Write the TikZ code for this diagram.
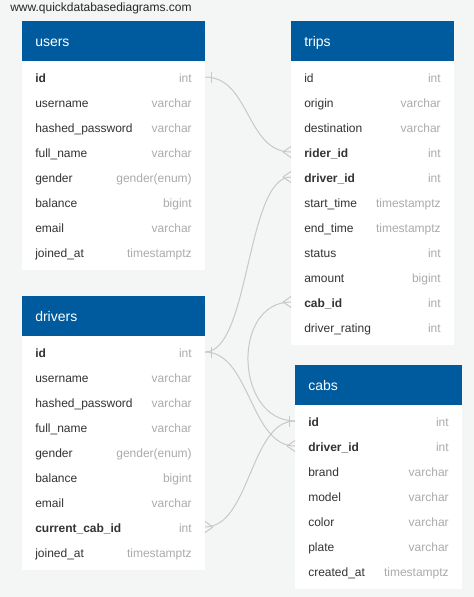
\documentclass[tikz,border=0pt]{standalone}
\usepackage{fontspec}
\setmainfont{Liberation Sans}
\definecolor{bg}{HTML}{F4F5F5}
\definecolor{hdr}{HTML}{005A9E}
\definecolor{nmc}{HTML}{333333}
\definecolor{tyc}{HTML}{ABABAB}
\definecolor{lnc}{HTML}{C8C8C8}
\tikzset{
  head/.style={fill=hdr, anchor=north west, inner sep=0pt, outer sep=0pt, minimum height=30pt},
  body/.style={fill=white, anchor=north west, inner sep=0pt, outer sep=0pt},
  title/.style={anchor=base west, inner sep=0pt, text=white, font=\fontsize{10.5}{12}\selectfont},
  nm/.style={anchor=west, inner sep=0pt, text height=8pt, text depth=0pt, text=nmc, font=\fontsize{9}{11}\selectfont},
  key/.style={font=\fontsize{9}{11}\selectfont\bfseries},
  ty/.style={inner sep=0pt, text height=8pt, text depth=0pt, text=tyc, font=\fontsize{9}{11}\selectfont, anchor=east},
  rel/.style={draw=lnc, line width=0.75pt},
}
\newcommand\rw[8]{%
  \node[nm,#8] (#1-#2) at (#4,#3) {#6};
  \node[ty] (#1-#2-t) at (#5,#3) {#7};}
\begin{document}
\begin{tikzpicture}[x=0.75pt,y=-0.75pt]
\fill[bg] (0,0) rectangle (474,597);
\useasboundingbox (0,0) rectangle (474,597);
\node[anchor=base west, inner sep=0pt, text=black!85, font=\fontsize{9}{11}\selectfont] (wm) at (10,11.5) {www.quickdatabasediagrams.com};
% users
\node[head, minimum width=137.25pt] (users-head) at (22,21) {};
\node[body, minimum width=137.25pt, minimum height=156.75pt] (users-body) at (22,61) {};
\node[title] (users-title) at (35,46) {users};
\rw{users}{id}{77}{35}{192}{id}{int}{key}
\rw{users}{username}{102}{35}{192}{username}{varchar}{}
\rw{users}{hpw}{127}{35}{192}{hashed\_password}{varchar}{}
\rw{users}{fname}{152}{35}{192}{full\_name}{varchar}{}
\rw{users}{gender}{177}{35}{192}{gender}{gender(enum)}{}
\rw{users}{balance}{202}{35}{192}{balance}{bigint}{}
\rw{users}{email}{227}{35}{192}{email}{varchar}{}
\rw{users}{joined}{252}{35}{192}{joined\_at}{timestamptz}{}
% trips
\node[head, minimum width=122.25pt] (trips-head) at (291,21) {};
\node[body, minimum width=122.25pt, minimum height=213pt] (trips-body) at (291,61) {};
\node[title] (trips-title) at (304,46) {trips};
\rw{trips}{id}{77}{304}{441}{id}{int}{}
\rw{trips}{origin}{102}{304}{441}{origin}{varchar}{}
\rw{trips}{dest}{127}{304}{441}{destination}{varchar}{}
\rw{trips}{rider}{152}{304}{441}{rider\_id}{int}{key}
\rw{trips}{driver}{177}{304}{441}{driver\_id}{int}{key}
\rw{trips}{start}{202}{304}{441}{start\_time}{timestamptz}{}
\rw{trips}{end}{227}{304}{441}{end\_time}{timestamptz}{}
\rw{trips}{status}{252}{304}{441}{status}{int}{}
\rw{trips}{amount}{277}{304}{441}{amount}{bigint}{}
\rw{trips}{cab}{302}{304}{441}{cab\_id}{int}{key}
\rw{trips}{rating}{327}{304}{441}{driver\_rating}{int}{}
% drivers
\node[head, minimum width=137.25pt] (drivers-head) at (22,296) {};
\node[body, minimum width=137.25pt, minimum height=175.5pt] (drivers-body) at (22,336) {};
\node[title] (drivers-title) at (35,321) {drivers};
\rw{drivers}{id}{352}{35}{192}{id}{int}{key}
\rw{drivers}{username}{377}{35}{192}{username}{varchar}{}
\rw{drivers}{hpw}{402}{35}{192}{hashed\_password}{varchar}{}
\rw{drivers}{fname}{427}{35}{192}{full\_name}{varchar}{}
\rw{drivers}{gender}{452}{35}{192}{gender}{gender(enum)}{}
\rw{drivers}{balance}{477}{35}{192}{balance}{bigint}{}
\rw{drivers}{email}{502}{35}{192}{email}{varchar}{}
\rw{drivers}{cur}{527}{35}{192}{current\_cab\_id}{int}{key}
\rw{drivers}{joined}{552}{35}{192}{joined\_at}{timestamptz}{}
% cabs
\node[head, minimum width=125.25pt] (cabs-head) at (295,365) {};
\node[body, minimum width=125.25pt, minimum height=138pt] (cabs-body) at (295,405) {};
\node[title] (cabs-title) at (308,390) {cabs};
\rw{cabs}{id}{421}{308}{449}{id}{int}{key}
\rw{cabs}{driver}{446}{308}{449}{driver\_id}{int}{key}
\rw{cabs}{brand}{471}{308}{449}{brand}{varchar}{}
\rw{cabs}{model}{496}{308}{449}{model}{varchar}{}
\rw{cabs}{color}{521}{308}{449}{color}{varchar}{}
\rw{cabs}{plate}{546}{308}{449}{plate}{varchar}{}
\rw{cabs}{created}{571}{308}{449}{created\_at}{timestamptz}{}
% connection points
\coordinate (u1) at (users-body.east |- users-id);
\coordinate (t1) at (trips-body.west |- trips-rider);
\coordinate (t2) at (trips-body.west |- trips-driver);
\coordinate (t3) at (trips-body.west |- trips-cab);
\coordinate (d1) at (drivers-body.east |- drivers-id);
\coordinate (d2) at (drivers-body.east |- drivers-cur);
\coordinate (c1) at (cabs-body.west |- cabs-id);
\coordinate (c2) at (cabs-body.west |- cabs-driver);
% connectors
\draw[rel] (u1) .. controls +(45,0) and +(-45,0) .. (t1);
\draw[rel] (d1) .. controls +(45,0) and +(-45,0) .. (t2);
\draw[rel] (d1) .. controls +(45,0) and +(-45,0) .. (c2);
\draw[rel] (c1) .. controls +(-60,0) and +(-60,0) .. (t3);
\draw[rel] (d2) .. controls +(45,0) and +(-45,0) .. (c1);
% one marks
\draw[rel] (u1) ++(6,-5.5) -- ++(0,11);
\draw[rel] (d1) ++(6,-5.5) -- ++(0,11);
\draw[rel] (c1) ++(-6,-5.5) -- ++(0,11);
% many marks
\draw[rel] (t1) ++(-8,0) -- ++(8,-5.5) (t1) ++(-8,0) -- ++(8,5.5);
\draw[rel] (t2) ++(-8,0) -- ++(8,-5.5) (t2) ++(-8,0) -- ++(8,5.5);
\draw[rel] (t3) ++(-8,0) -- ++(8,-5.5) (t3) ++(-8,0) -- ++(8,5.5);
\draw[rel] (c2) ++(-8,0) -- ++(8,-5.5) (c2) ++(-8,0) -- ++(8,5.5);
\draw[rel] (d2) ++(8,0) -- ++(-8,-5.5) (d2) ++(8,0) -- ++(-8,5.5);
\end{tikzpicture}
\end{document}
